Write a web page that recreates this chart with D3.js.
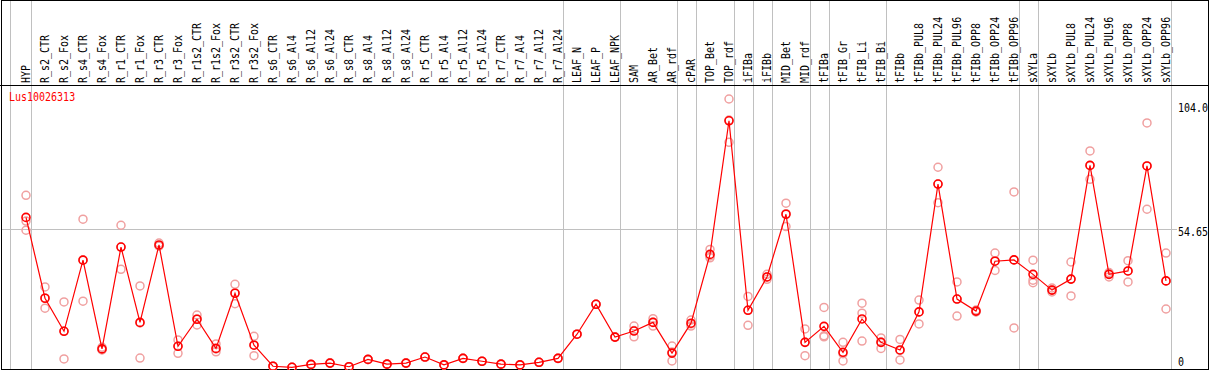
<!DOCTYPE html>
<html>
<head>
<meta charset="utf-8">
<script src="https://cdn.jsdelivr.net/npm/d3@7"></script>
<style>
  html, body { margin: 0; padding: 0; background: #fff; }
  text { font-family: "DejaVu Sans Mono", "Liberation Mono", monospace; font-size: 10px; }
</style>
</head>
<body>
<div id="graph"></div>
<script>
var width = 1209;
var height = 370;

var categories = ["HYP", "R_s2_CTR", "R_s2_Fox", "R_s4_CTR", "R_s4_Fox", "R_r1_CTR", "R_r1_Fox",
  "R_r3_CTR", "R_r3_Fox", "R_r1s2_CTR", "R_r1s2_Fox", "R_r3s2_CTR", "R_r3s2_Fox",
  "R_s6_CTR", "R_s6_Al4", "R_s6_Al12", "R_s6_Al24", "R_s8_CTR", "R_s8_Al4", "R_s8_Al12", "R_s8_Al24",
  "R_r5_CTR", "R_r5_Al4", "R_r5_Al12", "R_r5_Al24", "R_r7_CTR", "R_r7_Al4", "R_r7_Al12", "R_r7_Al24",
  "LEAF_N", "LEAF_P", "LEAF_NPK", "SAM", "AR_Bet", "AR_rdf", "cPAR", "TOP_Bet", "TOP_rdf",
  "iFIBa", "iFIBb", "MID_Bet", "MID_rdf", "tFIBa", "tFIB_Gr", "tFIB_Li", "tFIB_Bi", "tFIBb",
  "tFIBb_PUL8", "tFIBb_PUL24", "tFIBb_PUL96", "tFIBb_OPP8", "tFIBb_OPP24", "tFIBb_OPP96",
  "sXYLa", "sXYLb", "sXYLb_PUL8", "sXYLb_PUL24", "sXYLb_PUL96", "sXYLb_OPP8", "sXYLb_OPP24", "sXYLb_OPP96"];

var meanValues = [58.9, 28.1, 15.5, 42.6, 8.8, 47.6, 18.9, 48.4, 9.8, 20.1, 9.0, 30.0, 10.2,
  2.2, 1.8, 2.9, 3.4, 2.0, 4.8, 3.0, 3.4, 5.7, 2.7, 5.2, 4.1, 3.0, 2.7, 3.7, 5.2,
  14.4, 25.8, 13.3, 15.6, 18.9, 7.2, 18.6, 44.8, 95.7, 23.5, 36.2, 60.1, 11.3,
  17.4, 7.5, 20.2, 11.3, 8.4, 22.9, 71.6, 27.8, 23.2, 42.2, 42.7,
  37.2, 31.2, 35.4, 78.7, 37.2, 38.5, 78.5, 34.7];

var rep1 = [67.3, 32.4, 26.7, 58.2, 9.4, 55.9, 32.8, 49.1, 12.2, 21.7, 10.7, 33.4, 13.6,
  2.2, 1.8, 2.9, 3.4, 2.0, 4.8, 3.0, 3.4, 5.7, 2.7, 5.2, 4.1, 3.0, 2.7, 3.7, 5.2,
  14.4, 25.8, 13.3, 17.5, 20.3, 9.9, 19.8, 46.7, 104.0, 28.8, 37.2, 64.3, 16.4,
  24.6, 11.3, 26.2, 13.0, 12.4, 27.4, 78.0, 34.3, 23.6, 45.3, 68.6,
  42.6, 32.0, 41.9, 84.2, 37.9, 42.4, 94.9, 45.3];

var rep2 = [57.5, 24.3, 5.0, 27.0, 8.6, 39.1, 5.3, 48.0, 7.1, 17.9, 7.7, 26.0, 6.2,
  2.2, 1.8, 2.9, 3.4, 2.0, 4.8, 3.0, 3.4, 5.7, 2.7, 5.2, 4.1, 3.0, 2.7, 3.7, 5.2,
  14.4, 25.8, 13.3, 13.4, 17.5, 4.2, 17.5, 43.5, 87.5, 17.8, 35.3, 55.4, 6.2,
  13.8, 4.2, 22.4, 9.0, 4.6, 18.3, 64.5, 21.3, 23.0, 38.7, 16.8,
  35.0, 30.5, 29.0, 73.4, 36.2, 34.3, 62.0, 24.0];

var rep3 = [54.0, 28.2, 15.6, 42.7, 8.4, 47.6, 18.7, 48.0, 9.9, 20.2, 8.8, 30.1, 10.3,
  2.2, 1.8, 2.9, 3.4, 2.0, 4.8, 3.0, 3.4, 5.7, 2.7, 5.2, 4.1, 3.0, 2.7, 3.7, 5.2,
  14.4, 25.8, 13.3, 15.8, 19.0, 7.6, 18.3, 44.2, 96.0, 23.6, 36.2, 60.3, 11.4,
  13.4, 7.0, 11.8, 11.4, 8.2, 22.9, 71.6, 27.8, 22.9, 42.3, 42.7,
  34.0, 31.2, 35.4, 78.7, 37.3, 38.5, 78.5, 34.7];

// last sample of each group gets a separator line
var groupEnds = ["HYP", "R_r7_Al24", "LEAF_NPK", "AR_rdf", "cPAR", "TOP_rdf", "iFIBa", "iFIBb",
  "MID_rdf", "tFIBa", "tFIB_Bi", "tFIBb_OPP96", "sXYLa", "sXYLb_OPP96"];

var yTicks = [0, 54.65, 104.0];
var yTickLabels = ["0", "54.65", "104.0"];
var geneName = "Lus10026313";

var svg = d3.select("#graph")
  .append("svg")
  .attr("width", width)
  .attr("height", height);

var headerBottom = 85;
var plotBottom = 369;

var x = d3.scalePoint()
  .domain(categories)
  .range([26, 1166]);

var y = d3.scaleLinear()
  .domain([0, 104])
  .range([372, 99]);

// vertical separators (full height)
svg.selectAll("line.sep")
  .data([null].concat(groupEnds))
  .enter().append("line")
  .attr("class", "sep")
  .attr("x1", function(d) { return d === null ? 10.5 : Math.round(x(d) + 4.7) + 0.5; })
  .attr("x2", function(d) { return d === null ? 10.5 : Math.round(x(d) + 4.7) + 0.5; })
  .attr("y1", 0)
  .attr("y2", plotBottom)
  .attr("stroke", "#c0c0c0")
  .attr("stroke-width", 1);

// horizontal mid gridline
svg.append("line")
  .attr("x1", 1)
  .attr("x2", 1177)
  .attr("y1", Math.round(y(54.65)) + 0.5)
  .attr("y2", Math.round(y(54.65)) + 0.5)
  .attr("stroke", "#c0c0c0")
  .attr("stroke-width", 1);

// header separator + frame
svg.append("line")
  .attr("x1", 0).attr("x2", width)
  .attr("y1", headerBottom + 0.5).attr("y2", headerBottom + 0.5)
  .attr("stroke", "#000").attr("stroke-width", 1);

svg.append("rect")
  .attr("x", 1.5).attr("y", 0.5)
  .attr("width", 1207).attr("height", plotBottom)
  .attr("fill", "none")
  .attr("stroke", "#000")
  .attr("stroke-width", 1);

// rotated sample labels
svg.append("g")
  .selectAll("text")
  .data(categories)
  .enter().append("text")
  .attr("transform", function(d) { return "translate(" + (x(d) + 3.5) + "," + 83 + ") rotate(-90) scale(1,1.2)"; })
  .attr("fill", "#000")
  .text(function(d) { return d; });

// gene name
svg.append("text")
  .attr("transform", "translate(9,101) scale(1,1.2)")
  .attr("fill", "#ff0000")
  .text(geneName);

// right axis labels
svg.append("g")
  .selectAll("text")
  .data(yTicks)
  .enter().append("text")
  .attr("transform", function(d) {
    var by = Math.min(Math.max(y(d) + 7.5, 112), 366);
    return "translate(1178," + by + ") scale(1,1.2)";
  })
  .attr("fill", "#000")
  .text(function(d, i) { return yTickLabels[i]; });

// replicate points
var reps = [];
categories.forEach(function(c, i) {
  [rep1[i], rep2[i], rep3[i]].forEach(function(v) { reps.push({ c: c, v: v }); });
});

svg.append("g")
  .selectAll("circle")
  .data(reps)
  .enter().append("circle")
  .attr("cx", function(d) { return x(d.c); })
  .attr("cy", function(d) { return y(d.v); })
  .attr("r", 4)
  .attr("fill", "none")
  .attr("stroke", "#f0a0a0")
  .attr("stroke-width", 1.5);

// mean line
var line = d3.line()
  .x(function(d, i) { return x(categories[i]); })
  .y(function(d) { return y(d); });

svg.append("path")
  .datum(meanValues)
  .attr("d", line)
  .attr("fill", "none")
  .attr("stroke", "#ff0000")
  .attr("stroke-width", 1.2);

svg.append("g")
  .selectAll("circle")
  .data(meanValues)
  .enter().append("circle")
  .attr("cx", function(d, i) { return x(categories[i]); })
  .attr("cy", function(d) { return y(d); })
  .attr("r", 4)
  .attr("fill", "none")
  .attr("stroke", "#ff0000")
  .attr("stroke-width", 1.6);
</script>
</body>
</html>
